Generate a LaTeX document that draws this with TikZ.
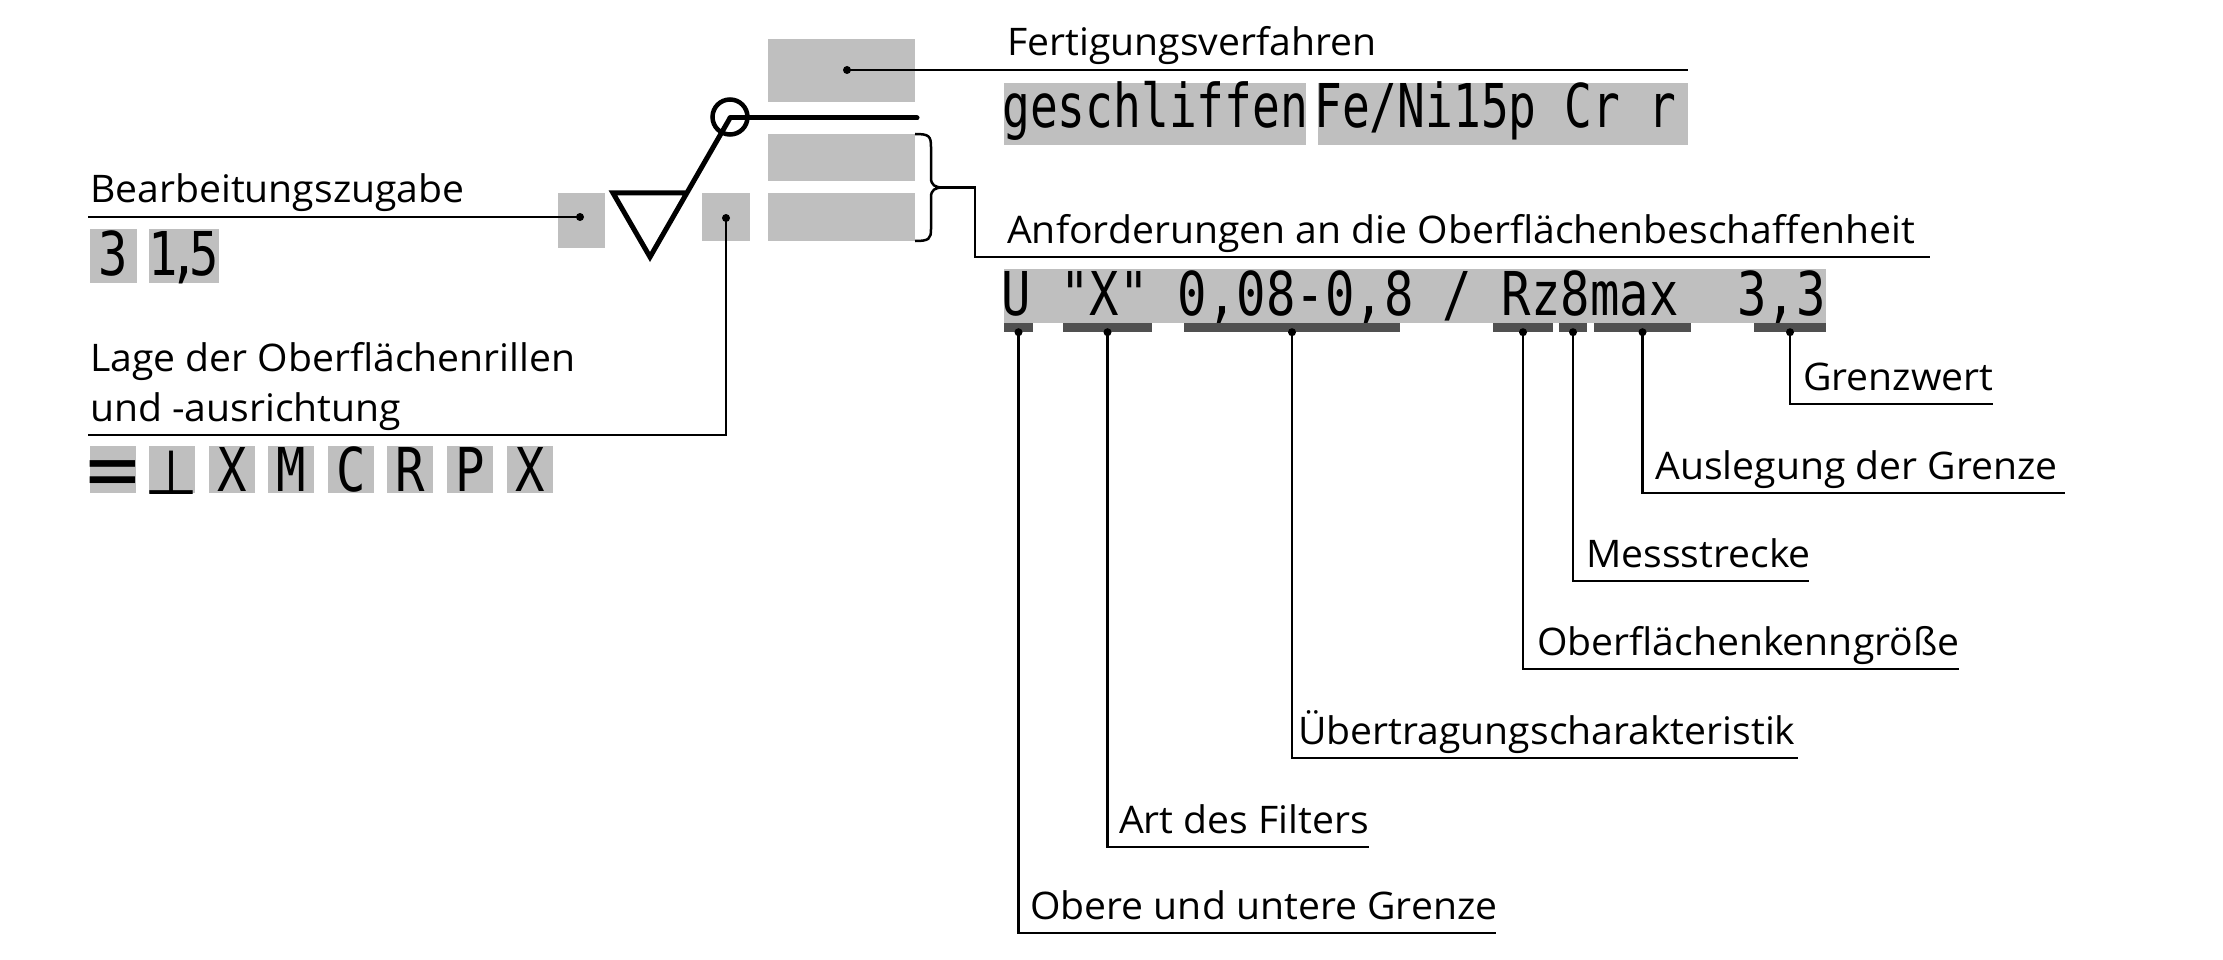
\documentclass[tikz,border=0pt]{standalone}
\usepackage{fontspec}
\setmainfont{Open Sans}[FakeStretch=1.03]
\newfontfamily\isoU{DejaVu Sans Mono}[FakeStretch=0.81]
\newfontfamily\isoG{DejaVu Sans Mono}[FakeStretch=0.765]
\newfontfamily\symfont{DejaVu Sans}
\newcommand\lblsize{\fontsize{38}{46}\selectfont}
\newcommand\isosize{\fontsize{60.4}{70}\selectfont}
\definecolor{boxgray}{RGB}{191,191,191}
\definecolor{bargray}{RGB}{80,80,80}
\begin{document}
\begin{tikzpicture}[x=1pt,y=-1pt,
  gbox/.style 2 args={fill=boxgray,draw=none,inner sep=0pt,minimum width=#1pt,minimum height=#2pt},
  dbar/.style={fill=bargray,draw=none,inner sep=0pt,minimum width=#1pt,minimum height=9pt},
  lbl/.style={anchor=base west,inner sep=0pt,font=\lblsize},
  isotxt/.style={anchor=base west,inner sep=0pt,font=\isoU\isosize},
  isogtxt/.style={anchor=base west,inner sep=0pt,font=\isoG\isosize},
  isoc/.style={anchor=base,inner sep=0pt,font=\isoU\isosize},
  thinline/.style={line width=2.5pt},
  thickline/.style={line width=5pt},
  dotmark/.style={circle,fill=black,inner sep=0pt,minimum size=8pt}]
\useasboundingbox (0,0) rectangle (2223,960);

% ---------- gray boxes of the symbol ----------
\node[gbox={147}{63}] (fvbox) at (841.5,70.5) {};
\node[gbox={147}{47}] (reqA) at (841.5,157.5) {};
\node[gbox={147}{48}] (reqB) at (841.5,217) {};
\node[gbox={47}{55}] (addbox) at (581.5,220.5) {};
\node[gbox={48}{48}] (laybox) at (726,217) {};

% ---------- surface symbol ----------
\coordinate (tl) at (613,193);
\coordinate (tr) at (687,193);
\coordinate (apex) at (650,257);
\coordinate (junc) at (730,118);
\coordinate (hend) at (917,118);
\draw[thickline] (tr) -- (tl) -- (apex) -- (junc);
\draw[thickline,line cap=round] (junc) -- (hend);
\node[draw,circle,line width=4.5pt,minimum size=35pt,inner sep=0pt] (allround) at (730,117) {};

% ---------- brace ----------
\coordinate (bt) at (943,187.5);
\draw[thinline] (915,134) .. controls (929,134) and (931,136) .. (931,147) -- (931,178)
  .. controls (931,185) and (935,187.5) .. (bt)
  .. controls (935,187.5) and (931,190) .. (931,197) -- (931,229)
  .. controls (931,239) and (929,241) .. (915,241);

% ---------- Fertigungsverfahren ----------
\node[dotmark] (fvdot) at (847,70) {};
\coordinate (fvend) at (1688,70);
\draw[thinline] (fvdot.center) -- (fvend);
\node[lbl] (fvlbl) at (1007,56) {Fertigungsverfahren};
\node[gbox={302}{62}] (gesch) at (1155,114) {};
\node[gbox={370}{62}] (fe) at (1503,114) {};
\node[isogtxt] (geschtxt) at (1002,128) {geschliffen};
\node[isogtxt] (fetxt) at (1314,128) {Fe/Ni15p Cr r};

% ---------- Anforderungen ----------
\coordinate (rq1) at (975,187.5);
\coordinate (rq2) at (975,257);
\coordinate (rqend) at (1930,257);
\draw[thinline] (bt) -- (rq1) -- (rq2) -- (rqend);
\node[lbl] (rqlbl) at (1007,243) {Anforderungen an die Oberflächenbeschaffenheit};
\node[gbox={822}{54}] (req) at (1415,296) {};
\node[isotxt] (reqtxt) at (1001,315) {U "X" 0,08-0,8 / Rz8max~~3,3};

% dark bars
\node[dbar=29] (bU) at (1018.5,327.5) {};
\node[dbar=89] (bX) at (1107.5,327.5) {};
\node[dbar=216] (bF) at (1292,327.5) {};
\node[dbar=60] (bR) at (1523,327.5) {};
\node[dbar=28] (b8) at (1573,327.5) {};
\node[dbar=97] (bM) at (1642.5,327.5) {};
\node[dbar=72] (bG) at (1790,327.5) {};

% leaders
\coordinate (eU) at (1496,933);
\coordinate (eX) at (1369,847);
\coordinate (eF) at (1798,758);
\coordinate (eR) at (1959,669);
\coordinate (e8) at (1809,581);
\coordinate (eM) at (2065,493);
\coordinate (eG) at (1993,404);
\foreach \b/\e in {bU/eU,bX/eX,bF/eF,bR/eR,b8/e8,bM/eM,bG/eG}{
  \node[dotmark] (\b dot) at (\b.south) {};
  \draw[thinline] (\b dot.center) |- (\e);
}
\node[lbl] (lU) at (1030,919) {Obere und untere Grenze};
\node[lbl] (lX) at (1119,833) {Art des Filters};
\node[lbl] (lF) at (1298,744) {Übertragungscharakteristik};
\node[lbl] (lR) at (1537,655) {Oberflächenkenngröße};
\node[lbl] (l8) at (1586,567) {Messstrecke};
\node[lbl] (lM) at (1655,479) {Auslegung der Grenze};
\node[lbl] (lG) at (1803,390) {Grenzwert};

% ---------- Bearbeitungszugabe ----------
\node[dotmark] (adddot) at (580,217) {};
\coordinate (addend) at (88,217);
\draw[thinline] (adddot.center) -- (addend);
\node[lbl] (addlbl) at (90,202) {Bearbeitungszugabe};
\node[gbox={47}{54}] (v3) at (113.5,256) {};
\node[gbox={70}{54}] (v15) at (184,256) {};
\node[isoc] (v3t) at (113.5,275) {3};
\node[isoc] (v15t) at (184,275) {1\kern-9pt,\kern-9pt5};

% ---------- Lage der Oberflaechenrillen ----------
\node[dotmark] (laydot) at (726,218) {};
\coordinate (lay1) at (726,435);
\coordinate (layend) at (88,435);
\draw[thinline] (laydot.center) -- (lay1) -- (layend);
\node[lbl] (laylbl1) at (90,371) {Lage der Oberflächenrillen};
\node[lbl] (laylbl2) at (90,421) {und -ausrichtung};
\foreach \i/\x in {1/113,2/172,3/232,4/291,5/351,6/410,7/470,8/530}{
  \node[gbox={46}{47}] (s\i) at (\x,469.5) {};
}
\node[anchor=base,inner sep=0pt,font=\symfont\fontsize{58}{60}\selectfont,
      xscale=1.25,yscale=1.4,transform shape] (s1t) at (113,497) {=};
\node[anchor=base,inner sep=0pt,font=\symfont\fontsize{62}{64}\selectfont] (s2t) at (172,494) {⊥};
\node[isoc] (s3t) at (232,491) {X};
\node[isoc] (s4t) at (291,491) {M};
\node[isoc] (s5t) at (351,491) {C};
\node[isoc] (s6t) at (410,491) {R};
\node[isoc] (s7t) at (470,491) {P};
\node[isoc] (s8t) at (530,491) {X};
\end{tikzpicture}
\end{document}
